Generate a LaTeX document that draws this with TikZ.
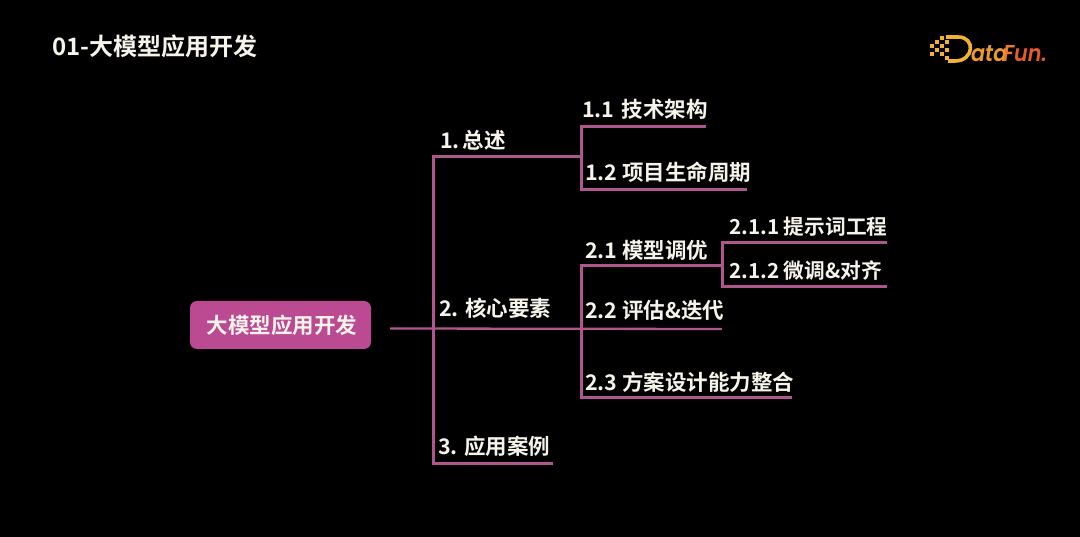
\documentclass[tikz,border=0pt]{standalone}
\usepackage{fontspec}
\setmainfont{Noto Sans CJK SC}[BoldFont={Noto Sans CJK SC Bold}]
\newfontfamily\logofont{Poppins}[BoldFont={Poppins SemiBold}]
\definecolor{branch}{HTML}{B0568F}
\definecolor{rootfill}{HTML}{BB4A92}
\definecolor{labeltxt}{HTML}{F5F3EA}
\definecolor{logoa}{HTML}{F2B233}
\definecolor{logob}{HTML}{F09A2C}
\definecolor{logoc}{HTML}{EC7A2A}
\definecolor{logod}{HTML}{E65A2C}
\tikzset{
  lab/.style={anchor=west,inner sep=0pt,text=labeltxt,font=\fontsize{21.5}{22}\selectfont\bfseries},
  labsmall/.style={lab,font=\fontsize{20.7}{22}\selectfont\bfseries},
  bar/.style={draw=branch,line width=3pt,line cap=butt,line join=miter},
  thinbar/.style={draw=branch,line width=2.3pt},
  px/.style={fill=logoa,draw=none,minimum size=4pt,inner sep=0pt},
  logol/.style={anchor=base west,inner sep=0pt,font=\logofont\bfseries\itshape\fontsize{23}{23}\selectfont}
}
\begin{document}
\begin{tikzpicture}[x=1pt,y=-1pt]
\useasboundingbox (0,0) rectangle (1080,537);
\fill[black] (0,0) rectangle (1080,537);
% title
\node[lab,font=\fontsize{24}{24}\selectfont\bfseries] (title) at (52,46) {01-大模型应用开发};
% root
\node[draw=none,fill=rootfill,rounded corners=7pt,minimum width=181pt,minimum height=48pt,inner sep=0pt,text=labeltxt,font=\fontsize{21.5}{22}\selectfont\bfseries] (root) at (280.5,325) {\hspace{3pt}大模型应用开发};
% junctions
\coordinate (s) at (390,328.5);
\coordinate (e22) at (722,329);
\coordinate (top) at (433,157);
\coordinate (j1) at (581,157);
\coordinate (bot) at (433,464);
\coordinate (e3) at (553,464);
\coordinate (t11) at (581,127);
\coordinate (e11) at (706,127);
\coordinate (t12) at (581,190);
\coordinate (e12) at (747,190);
\coordinate (t21) at (581,265.5);
\coordinate (j21) at (722,265.5);
\coordinate (t23) at (581,398);
\coordinate (e23) at (792,398);
\coordinate (t211) at (722,243);
\coordinate (e211) at (887,243);
\coordinate (t212) at (722,287);
\coordinate (e212) at (887,287);
% connectors
\draw[thinbar] (s) -- (e22);
\draw[bar] (e3) -- (bot) -- (top) -- (j1);
\draw[bar] (e11) -- (t11) -- (t12) -- (e12);
\draw[bar] (j21) -- (t21) -- (t23) -- (e23);
\draw[bar] (e211) -- (t211) -- (t212) -- (e212);
% labels
\node[lab] (n1) at (440,140) {1.\hspace{3pt}总述};
\node[lab] (n2) at (439,308) {2. 核心要素};
\node[lab] (n3) at (438,446) {3. 应用案例};
\node[lab] (n11) at (582,109) {1.1\hspace{7pt}技术架构};
\node[lab] (n12) at (585,172) {1.2 项目生命周期};
\node[lab] (n21) at (585,250) {2.1 模型调优};
\node[lab] (n22) at (585,310) {2.2 评估\&迭代};
\node[lab] (n23) at (585,382) {2.3 方案设计能力整合};
\node[labsmall] (n211) at (729,227) {2.1.1 提示词工程};
\node[labsmall] (n212) at (729,271) {2.1.2 微调\&对齐};
% logo
\foreach \i/\x/\y in {a/932/46,b/937/42,c/942/38,d/937/50,e/942/46,f/942/54,g/932/54,h/947/50,i/947/42,k/947/58}
  \node[px] (p\i) at (\x,\y) {};
\draw[draw=logoa,line width=3.6pt] (946,37) -- (958,37) .. controls (976,37) and (974,61) .. (955,61) -- (948,61);
\node[logol,text=logob,xscale=.9] (l1) at (971,61.5) {ata};
\node[logol,text=logoc,xscale=.9] (l2) at (1003,61.5) {F};
\node[logol,text=logod,xscale=.9] (l3) at (1014,61.5) {un.};
\end{tikzpicture}
\end{document}
